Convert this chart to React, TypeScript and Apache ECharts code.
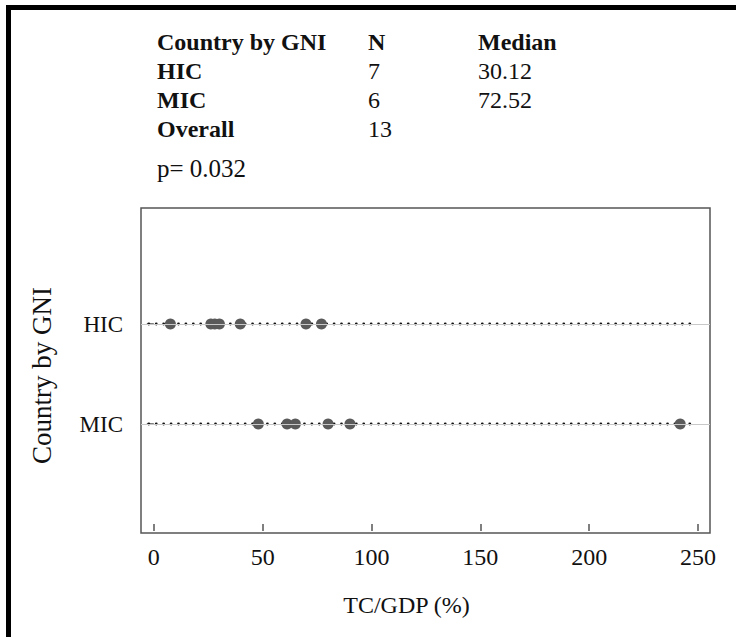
import React, { useEffect, useRef } from "react";
import * as echarts from "echarts";

const CATEGORIES = ["MIC", "HIC"]; // y = 1, 2
const HIC_VALUES = [7.6, 26.2, 28.0, 30.12, 39.7, 69.9, 77.0];
const MIC_VALUES = [48.0, 61.2, 65.0, 80.04, 90.1, 241.8];
const X_TICKS = [0, 50, 100, 150, 200, 250];
const X_RANGE = [-5.9, 255.5];
const DOT_RANGE = [-2.3, 246.8];

const TABLE_HEADER = ["Country by GNI", "N", "Median"];
const TABLE_GROUPS = ["HIC", "MIC", "Overall"];
const TABLE_N = ["7", "6", "13"];
const TABLE_MEDIAN = ["30.12", "72.52", ""];
const P_VALUE = "0.032";

const SERIF = '"Liberation Serif", "Times New Roman", serif';

export default function App() {
  const ref = useRef<HTMLDivElement>(null);
  useEffect(() => {
    document.body.style.margin = "0";
    const chart = echarts.init(ref.current!, null, { renderer: "svg" });
    const colX = [157, 368, 478];
    const rowY = [41.6, 70.6, 99.6, 128.8];
    const texts: any[] = [];
    TABLE_HEADER.forEach((t, i) =>
      texts.push({ type: "text", x: colX[i], y: rowY[0], style: { text: t, font: `bold 24px ${SERIF}`, fill: "#111", verticalAlign: "middle" } })
    );
    TABLE_GROUPS.forEach((g, r) => {
      texts.push({ type: "text", x: colX[0], y: rowY[r + 1], style: { text: g, font: `bold 24px ${SERIF}`, fill: "#111", verticalAlign: "middle" } });
      texts.push({ type: "text", x: colX[1], y: rowY[r + 1], style: { text: TABLE_N[r], font: `24px ${SERIF}`, fill: "#111", verticalAlign: "middle" } });
      if (TABLE_MEDIAN[r]) texts.push({ type: "text", x: colX[2], y: rowY[r + 1], style: { text: TABLE_MEDIAN[r], font: `24px ${SERIF}`, fill: "#111", verticalAlign: "middle" } });
    });
    texts.push({ type: "text", x: colX[0], y: 168.5, style: { text: "p= " + P_VALUE, font: `25px ${SERIF}`, fill: "#111", verticalAlign: "middle" } });

    const catY = (c: string) => CATEGORIES.indexOf(c) + 1;

    chart.setOption({
      animation: false,
      graphic: [
        { type: "rect", shape: { x: 6, y: 5, width: 730, height: 5 }, style: { fill: "#000" } },
        { type: "rect", shape: { x: 6, y: 5, width: 5, height: 632 }, style: { fill: "#000" } },
        ...texts,
      ],
      grid: { left: 141, right: 26, top: 208, bottom: 104, show: true, borderColor: "#555", borderWidth: 1.5, backgroundColor: "transparent" },
      xAxis: {
        type: "value",
        min: X_RANGE[0],
        max: X_RANGE[1],
        name: "TC/GDP (%)",
        nameLocation: "middle",
        nameGap: 60,
        nameTextStyle: { fontFamily: SERIF, fontSize: 24, color: "#111", padding: [0, 38, 0, 0] },
        axisLine: { show: false },
        splitLine: { show: false },
        axisTick: { show: true, length: 7, customValues: X_TICKS, lineStyle: { color: "#555", width: 1.5 } },
        axisLabel: { customValues: X_TICKS, fontFamily: SERIF, fontSize: 24, color: "#111", margin: 12 },
      },
      yAxis: {
        type: "value",
        min: -0.09,
        max: 3.16,
        name: "Country by GNI",
        nameLocation: "middle",
        nameGap: 86,
        nameTextStyle: { fontFamily: SERIF, fontSize: 27, color: "#111", padding: [0, 10, 0, 0] },
        axisLine: { show: false },
        splitLine: { show: false },
        axisTick: { show: true, length: 7, customValues: [1, 2], lineStyle: { color: "#555", width: 1.5 } },
        axisLabel: {
          customValues: [1, 2],
          formatter: (v: number) => CATEGORIES[Math.round(v) - 1] || "",
          fontFamily: SERIF,
          fontSize: 23,
          color: "#111",
          margin: 18,
        },
      },
      series: [
        ...CATEGORIES.map((c) => ({
          type: "line",
          data: [
            [DOT_RANGE[0], catY(c)],
            [DOT_RANGE[1], catY(c)],
          ],
          symbol: "none",
          lineStyle: { color: "#111", width: 2.8, type: [0.01, 7.4], cap: "round" },
          markLine: {
            silent: true,
            symbol: "none",
            label: { show: false },
            lineStyle: { color: "#c8c8c8", width: 1, type: "solid" },
            data: [{ yAxis: catY(c) }],
          },
          z: 2,
        })),
        {
          type: "scatter",
          data: HIC_VALUES.map((v) => [v, catY("HIC")]),
          symbolSize: 11,
          itemStyle: { color: "#5a5a5a", opacity: 1 },
          z: 3,
        },
        {
          type: "scatter",
          data: MIC_VALUES.map((v) => [v, catY("MIC")]),
          symbolSize: 11,
          itemStyle: { color: "#5a5a5a", opacity: 1 },
          z: 3,
        },
      ],
    });
    return () => chart.dispose();
  }, []);
  return <div ref={ref} style={{ width: 736, height: 637 }} />;
}
